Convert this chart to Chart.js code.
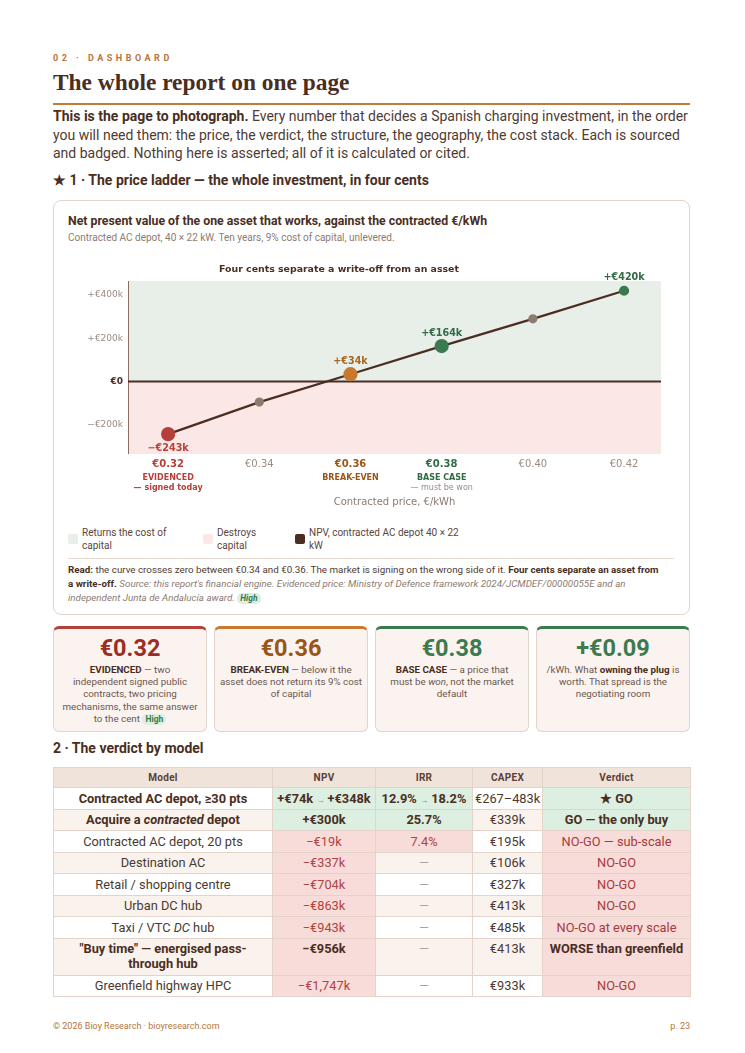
<!DOCTYPE html>
<html>
<head>
<meta charset="utf-8">
<script src="https://cdn.jsdelivr.net/npm/chart.js@4.4.1/dist/chart.umd.min.js"></script>
<style>
  html, body { margin: 0; padding: 0; background: #fff; }
  body { width: 745px; height: 1053px; font-family: Roboto, "Liberation Sans", Arial, sans-serif; color: #4f3b33; position: relative; }
  .page { position: absolute; left: 53px; top: 0; width: 637px; }
  .eyebrow { position: absolute; top: 53px; left: 0; font-size: 9px; font-weight: bold; letter-spacing: 3.5px; color: #b8743a; }
  h1 { position: absolute; top: 69px; left: 0; margin: 0; font-family: "Liberation Serif", "Times New Roman", serif; font-size: 23.4px; font-weight: bold; color: #4a2e22; }
  .rule { position: absolute; top: 103px; left: 0; width: 637px; height: 2px; background: #c27b38; }
  .lead { position: absolute; top: 107px; left: 0; width: 640px; margin: 0; font-size: 14px; line-height: 18.5px; color: #4f3b33; }
  .lead b { color: #4a2e22; }
  h3 { margin: 0; font-size: 14px; font-weight: bold; color: #4a2e22; position: absolute; left: 0; }
  .card { position: absolute; top: 200px; left: 0; width: 635px; height: 413px; border: 1px solid #e3d5cc; border-radius: 8px; }
  .ctitle { position: absolute; left: 14px; top: 13px; font-size: 12.3px; font-weight: bold; color: #4a2e22; }
  .csub { position: absolute; left: 14px; top: 31px; font-size: 10px; color: #8c7b72; }
  .cwrap { position: absolute; left: 14px; top: 57px; width: 608px; height: 252px; }
  .legend { position: absolute; left: 14px; top: 325px; font-size: 10px; line-height: 13px; color: #5a463d; }
  .li { position: absolute; top: 0; }
  .li .sw { position: absolute; left: 0; top: 8px; width: 10px; height: 10px; border-radius: 2px; }
  .li .tx { position: absolute; left: 14px; top: 0; }
  .sep { position: absolute; left: 14px; top: 357px; width: 606px; height: 1px; background: #e6dad2; }
  .read { position: absolute; left: 14px; top: 362px; width: 612px; font-size: 9.8px; line-height: 13.8px; color: #4f3b33; white-space: nowrap; }
  .read b { color: #4a2e22; }
  .read i { color: #8c7b72; }
  .badge { display: inline-block; background: #dcefe1; color: #3b7a4f; font-weight: bold; font-style: italic; font-size: 8.5px; padding: 0 3px; border-radius: 5px; line-height: 11px; }
  .kpis { position: absolute; top: 626px; left: 0; width: 637px; height: 105px; }
  .kpi { position: absolute; top: 0; width: 152px; height: 102px; background: #fbf3ef; border: 1px solid #e3d5cc; border-top: 3px solid; border-radius: 6px; text-align: center; }
  .kpi .big { font-size: 23.5px; font-weight: bold; margin-top: 5px; line-height: 29px; }
  .kpi .txt { font-size: 9.8px; line-height: 12.2px; color: #6b5850; padding: 1px 0 0 0; white-space: nowrap; }
  .kpi .txt b { color: #4a2e22; }
  table { position: absolute; top: 767px; left: 0; width: 637px; border-collapse: collapse; table-layout: fixed; font-size: 12.8px; }
  th, td { border: 1px solid #e3d3c8; text-align: center; padding: 0 2px; white-space: nowrap; }
  th { background: #efe3da; font-size: 10px; font-weight: bold; color: #5a4036; height: 19px; letter-spacing: 0.3px; }
  td { height: 20.5px; color: #4a3a32; }
  tr.w td { background: #fff; }
  tr.c td { background: #faf2ec; }
  td.g { background: #dcefe1 !important; }
  td.p { background: #f7dcda !important; }
  td.neg { color: #b0453e; }
  td.no { color: #a83a3a; }
  td.dash { color: #b0a39a; }
  td.b { font-weight: bold; color: #4a2e22; }
  td.top { vertical-align: top; padding-top: 2px; }
  .arr { font-size: 8px; color: #6b5850; }
  .foot { position: absolute; top: 1021px; left: 0; width: 637px; font-size: 9px; color: #b8743a; }
</style>
</head>
<body>
<div class="page">
  <div class="eyebrow">02 · DASHBOARD</div>
  <h1>The whole report on one page</h1>
  <div class="rule"></div>
  <p class="lead"><b>This is the page to photograph.</b> Every number that decides a Spanish charging investment, in the order you will need them: the price, the verdict, the structure, the geography, the cost stack. Each is sourced and badged. Nothing here is asserted; all of it is calculated or cited.</p>
  <h3 style="top:172px">★ 1 · The price ladder — the whole investment, in four cents</h3>

  <div class="card">
    <div class="ctitle">Net present value of the one asset that works, against the contracted €/kWh</div>
    <div class="csub">Contracted AC depot, 40 × 22 kW. Ten years, 9% cost of capital, unlevered.</div>
    <div class="cwrap"><canvas id="chart"></canvas></div>
    <div class="legend">
      <div class="li" style="left:0;width:120px"><span class="sw" style="background:#e7efe8"></span><span class="tx" style="width:92px">Returns the cost of capital</span></div>
      <div class="li" style="left:135px;width:80px"><span class="sw" style="background:#fbe8e6"></span><span class="tx" style="width:58px">Destroys capital</span></div>
      <div class="li" style="left:227px;width:180px"><span class="sw" style="background:#4a2e22"></span><span class="tx" style="width:155px">NPV, contracted AC depot 40 × 22 kW</span></div>
    </div>
    <div class="sep"></div>
    <div class="read"><b>Read:</b> the curve crosses zero between €0.34 and €0.36. The market is signing on the wrong side of it. <b>Four cents separate an asset from<br>a write-off.</b> <i>Source: this report's financial engine. Evidenced price: Ministry of Defence framework 2024/JCMDEF/00000055E and an<br>independent Junta de Andalucía award.</i> <span class="badge">High</span></div>
  </div>

  <div class="kpis">
    <div class="kpi" style="left:0;border-top-color:#b5403a"><div class="big" style="color:#9b2d25">€0.32</div><div class="txt"><b>EVIDENCED</b> — two<br>independent signed public<br>contracts, two pricing<br>mechanisms, the same answer<br>to the cent <span class="badge" style="font-style:normal">High</span></div></div>
    <div class="kpi" style="left:161px;border-top-color:#c8792e"><div class="big" style="color:#9a5518">€0.36</div><div class="txt"><b>BREAK-EVEN</b> — below it the<br>asset does not return its 9% cost<br>of capital</div></div>
    <div class="kpi" style="left:322px;border-top-color:#3b7a4f"><div class="big" style="color:#3d7a50">€0.38</div><div class="txt"><b>BASE CASE</b> — a price that<br>must be <i>won</i>, not the market<br>default</div></div>
    <div class="kpi" style="left:483px;border-top-color:#3b7a4f"><div class="big" style="color:#3d7a50">+€0.09</div><div class="txt">/kWh. What <b>owning the plug</b> is<br>worth. That spread is the<br>negotiating room</div></div>
  </div>

  <h3 style="top:740px">2 · The verdict by model</h3>
  <table>
    <colgroup><col style="width:219px"><col style="width:103px"><col style="width:97px"><col style="width:70px"><col style="width:148px"></colgroup>
    <tr><th>Model</th><th>NPV</th><th>IRR</th><th>CAPEX</th><th>Verdict</th></tr>
    <tr class="w"><td class="b">Contracted AC depot, ≥30 pts</td><td class="g b">+€74k <span class="arr">→</span> +€348k</td><td class="g b">12.9% <span class="arr">→</span> 18.2%</td><td>€267–483k</td><td class="g b">★ GO</td></tr>
    <tr class="c"><td class="b">Acquire a <i>contracted</i> depot</td><td class="g b">+€300k</td><td class="g b">25.7%</td><td>€339k</td><td class="g b">GO — the only buy</td></tr>
    <tr class="w"><td>Contracted AC depot, 20 pts</td><td class="p neg">−€19k</td><td class="p neg">7.4%</td><td>€195k</td><td class="p no">NO-GO — sub-scale</td></tr>
    <tr class="c"><td>Destination AC</td><td class="p neg">−€337k</td><td class="dash">—</td><td>€106k</td><td class="p no">NO-GO</td></tr>
    <tr class="w"><td>Retail / shopping centre</td><td class="p neg">−€704k</td><td class="dash">—</td><td>€327k</td><td class="p no">NO-GO</td></tr>
    <tr class="c"><td>Urban DC hub</td><td class="p neg">−€863k</td><td class="dash">—</td><td>€413k</td><td class="p no">NO-GO</td></tr>
    <tr class="w"><td>Taxi / VTC <i>DC</i> hub</td><td class="p neg">−€943k</td><td class="dash">—</td><td>€485k</td><td class="p no">NO-GO at every scale</td></tr>
    <tr class="c"><td class="b top" style="height:34px">"Buy time" — energised pass-<br>through hub</td><td class="p b top">−€956k</td><td class="dash top">—</td><td class="top">€413k</td><td class="p b top">WORSE than greenfield</td></tr>
    <tr class="w"><td>Greenfield highway HPC</td><td class="p neg">−€1,747k</td><td class="dash">—</td><td>€933k</td><td class="p no">NO-GO</td></tr>
  </table>

  <div class="foot"><span>© 2026 Bioy Research · bioyresearch.com</span><span style="float:right">p. 23</span></div>
</div>

<script>
// contracted price, €/kWh, and NPV in €k
const prices = [0.32, 0.34, 0.36, 0.38, 0.40, 0.42];
const npv = [-243, -95, 34, 164, 290, 420];
const pointLabels = ['−€243k', '', '+€34k', '+€164k', '', '+€420k'];
const tickLabels = ['€0.32', '€0.34', '€0.36', '€0.38', '€0.40', '€0.42'];
const tickNotes = [['EVIDENCED', '— signed today'], [], ['BREAK-EVEN'], ['BASE CASE', '— must be won'], [], []];
const yTicks = [-200, 0, 200, 400];
const yTickLabels = ['−€200k', '€0', '+€200k', '+€400k'];

const RED = '#b5403a', ORANGE = '#c8792e', GREEN = '#3b7a4f', GREY = '#8b7b70', DARK = '#4a2e22';
const pointColors = [RED, GREY, ORANGE, GREEN, GREY, GREEN];
const pointSizes = [6, 3.5, 6, 6, 3.5, 4];
const labelColors = [RED, null, '#a8661f', '#2f6b43', null, '#2f6b43'];
const tickColors = [RED, '#9a8a80', '#9a5518', '#2f6b43', '#9a8a80', '#9a8a80'];
const tickBold = [true, false, true, true, false, false];
const noteColors = [[RED, RED], [], ['#9a5518'], ['#2f6b43', '#9a8a80']];
const noteBold = [[true, true], [], [true], [true, false]];

const FONT = '"DejaVu Sans", sans-serif';

const bands = {
  id: 'bands',
  beforeDatasetsDraw(chart) {
    const { ctx, chartArea: a, scales: { y } } = chart;
    const z = y.getPixelForValue(0);
    ctx.save();
    ctx.fillStyle = '#e7efe8';
    ctx.fillRect(a.left, a.top, a.right - a.left, z - a.top);
    ctx.fillStyle = '#fbe8e6';
    ctx.fillRect(a.left, z, a.right - a.left, a.bottom - z);
    ctx.strokeStyle = '#8b6f60';
    ctx.lineWidth = 1;
    ctx.beginPath();
    ctx.moveTo(a.left + 0.5, a.top);
    ctx.lineTo(a.left + 0.5, a.bottom);
    ctx.stroke();
    ctx.strokeStyle = DARK;
    ctx.lineWidth = 2;
    ctx.beginPath();
    ctx.moveTo(a.left, z);
    ctx.lineTo(a.right, z);
    ctx.stroke();
    ctx.restore();
  }
};

const labels = {
  id: 'labels',
  afterDatasetsDraw(chart) {
    const { ctx, chartArea: a, scales: { x, y } } = chart;
    ctx.save();
    ctx.textAlign = 'center';
    ctx.textBaseline = 'middle';
    ctx.font = 'bold 9.4px ' + FONT;
    ctx.fillStyle = DARK;
    ctx.fillText('Four cents separate a write-off from an asset', a.left + 211, a.top - 11);
    ctx.font = 'bold 9.6px ' + FONT;
    prices.forEach((p, i) => {
      if (!pointLabels[i]) return;
      const px = x.getPixelForValue(p), py = y.getPixelForValue(npv[i]);
      ctx.fillStyle = labelColors[i];
      ctx.fillText(pointLabels[i], px, npv[i] < 0 ? py + 14 : py - 13);
    });
    tickNotes.forEach((lines, i) => {
      const px = x.getPixelForValue(prices[i]);
      lines.forEach((t, j) => {
        ctx.font = (noteBold[i][j] ? 'bold ' : '') + '8px ' + FONT;
        ctx.fillStyle = noteColors[i][j];
        ctx.fillText(t, px, a.bottom + 24 + j * 10);
      });
    });
    ctx.restore();
  }
};

const isZero = c => !!(c.tick && c.tick.value === 0);

new Chart(document.getElementById('chart'), {
  type: 'line',
  data: {
    datasets: [{
      data: prices.map((p, i) => ({ x: p, y: npv[i] })),
      borderColor: DARK,
      borderWidth: 2.2,
      pointBackgroundColor: pointColors,
      pointBorderColor: pointColors,
      pointRadius: pointSizes,
      pointHoverRadius: pointSizes,
      tension: 0
    }]
  },
  options: {
    responsive: true,
    maintainAspectRatio: false,
    animation: false,
    layout: { padding: { top: 23, right: 15, left: 0, bottom: 0 } },
    plugins: { legend: { display: false }, tooltip: { enabled: false } },
    scales: {
      x: {
        type: 'linear',
        min: 0.3112,
        max: 0.4281,
        grid: { display: false, drawTicks: false },
        border: { display: false },
        afterBuildTicks: s => { s.ticks = prices.map(v => ({ value: v })); },
        ticks: {
          padding: 4,
          autoSkip: false,
          maxRotation: 0,
          callback: (v, i) => tickLabels[i],
          color: c => tickColors[c.index] || '#9a8a80',
          font: c => ({ family: FONT, size: 10, weight: tickBold[c.index] ? 'bold' : 'normal' })
        },
        title: {
          display: true,
          text: 'Contracted price, €/kWh',
          color: '#8c7b72',
          font: { family: FONT, size: 10 },
          padding: { top: 22, bottom: 2 }
        }
      },
      y: {
        min: -335,
        max: 465,
        grid: { display: false, drawTicks: false },
        border: { display: false },
        afterBuildTicks: s => { s.ticks = yTicks.map(v => ({ value: v })); },
        afterFit: s => { s.width = 60; },
        ticks: {
          padding: 5,
          callback: (v, i) => yTickLabels[i],
          color: c => isZero(c) ? DARK : '#9a8a80',
          font: c => ({ family: FONT, size: 9, weight: isZero(c) ? 'bold' : 'normal' })
        }
      }
    }
  },
  plugins: [bands, labels]
});
</script>
</body>
</html>
